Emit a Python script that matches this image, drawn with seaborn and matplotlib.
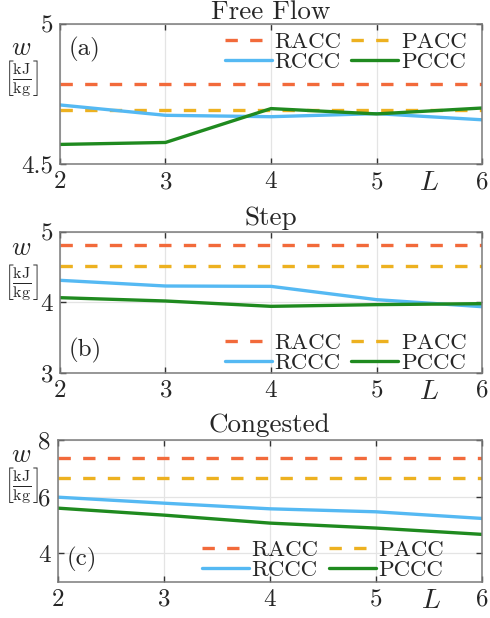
import matplotlib
matplotlib.use("Agg")
import matplotlib.pyplot as plt
import seaborn as sns
from matplotlib.ticker import FuncFormatter

# values
L = [2, 3, 4, 5, 6]

ff_racc = [4.785, 4.785, 4.785, 4.785, 4.785]
ff_pacc = [4.694, 4.694, 4.694, 4.694, 4.694]
ff_rccc = [4.711, 4.674, 4.669, 4.680, 4.658]
ff_pccc = [4.570, 4.577, 4.698, 4.679, 4.700]

step_racc = [4.815, 4.815, 4.815, 4.815, 4.815]
step_pacc = [4.517, 4.517, 4.517, 4.517, 4.517]
step_rccc = [4.313, 4.232, 4.227, 4.038, 3.938]
step_pccc = [4.066, 4.019, 3.943, 3.967, 3.981]

cong_racc = [7.345, 7.345, 7.345, 7.345, 7.345]
cong_pacc = [6.643, 6.643, 6.643, 6.643, 6.643]
cong_rccc = [5.977, 5.766, 5.567, 5.462, 5.228]
cong_pccc = [5.591, 5.345, 5.064, 4.889, 4.667]

titles = ["Free Flow", "Step", "Congested"]
tags = ["(a)", "(b)", "(c)"]
names = ["RACC", "PACC", "RCCC", "PCCC"]
colors = {"RACC": "#f26a3b", "PACC": "#edb120", "RCCC": "#55b9f3", "PCCC": "#1f8a1f"}
dashed = {"RACC": True, "PACC": True, "RCCC": False, "PCCC": False}

sns.set_theme(style="ticks")
plt.rcParams["font.family"] = "serif"
plt.rcParams["font.serif"] = ["cmr10"]
plt.rcParams["mathtext.fontset"] = "cm"
plt.rcParams["axes.formatter.use_mathtext"] = True

fig = plt.figure(figsize=(4.9, 6.18), dpi=100)

boxes = [
    [0.1224, 0.7346, 0.8613, 0.2265],
    [0.1224, 0.3970, 0.8613, 0.2276],
    [0.1177, 0.0587, 0.8660, 0.2298],
]
ylims = [(4.5, 5), (3, 5), (3, 8)]
yticks = [[4.5, 5], [3, 4, 5], [4, 6, 8]]
title_pad = [3.5, 5, 5.5]
data = [
    [ff_racc, ff_pacc, ff_rccc, ff_pccc],
    [step_racc, step_pacc, step_rccc, step_pccc],
    [cong_racc, cong_pacc, cong_rccc, cong_pccc],
]
leg_loc = ["upper left", "lower left", "lower left"]
leg_anchor = [(0.39, 0.945), (0.39, 0.0), (0.34, 0.015)]
tag_pos = [(0.02, 0.91, "top"), (0.02, 0.07, "bottom"), (0.02, 0.07, "bottom")]
w_y = [48, 248, 455]
br_y = [79, 283, 486]
L_x = [5.5, 5.5, 5.52]

for i in range(3):
    ax = fig.add_axes(boxes[i])
    for name, vals in zip(names, data[i]):
        ls = (0, (3.7, 3.7)) if dashed[name] else "-"
        sns.lineplot(x=L, y=vals, ax=ax, color=colors[name], linewidth=2.4,
                     linestyle=ls, label=name)
    ax.set_xlim(2, 6)
    ax.set_ylim(*ylims[i])
    ax.set_xticks(L)
    ax.set_yticks(yticks[i])
    ax.yaxis.set_major_formatter(FuncFormatter(lambda v, p: "{:g}".format(v)))
    ax.tick_params(direction="in", length=4, width=1, top=True, right=True,
                   labelsize=18, pad=5, color="#333333")
    ax.grid(True, color="#e4e4e4", linewidth=0.9)
    for s in ax.spines.values():
        s.set_color("#7a7a7a")
        s.set_linewidth(1.1)
    ax.set_title(titles[i], fontsize=19.5, pad=title_pad[i])

    h, lab = ax.get_legend_handles_labels()
    order = [0, 2, 1, 3]
    ax.legend([h[k] for k in order], [lab[k] for k in order], ncol=2,
              loc=leg_loc[i], bbox_to_anchor=leg_anchor[i], frameon=False,
              fontsize=16.5, handlelength=2.05, handletextpad=0.12,
              columnspacing=0.45, labelspacing=0.0, borderpad=0,
              borderaxespad=0)

    tx, ty, tva = tag_pos[i]
    ax.text(tx, ty, tags[i], transform=ax.transAxes, fontsize=18,
            ha="left", va=tva)
    ax.annotate("$L$", xy=(L_x[i], 0), xycoords=("data", "axes fraction"),
                xytext=(0, -4), textcoords="offset points", ha="center",
                va="top", fontsize=20)

    fig.text(21 / 490, 1 - w_y[i] / 618, "$w$", ha="center", va="center",
             fontsize=19)
    fig.text(21 / 490, 1 - br_y[i] / 618,
             r"$\left[\frac{\mathrm{kJ}}{\mathrm{kg}}\right]$",
             ha="center", va="center", fontsize=16.5)

fig.savefig("out.png", dpi=100)
